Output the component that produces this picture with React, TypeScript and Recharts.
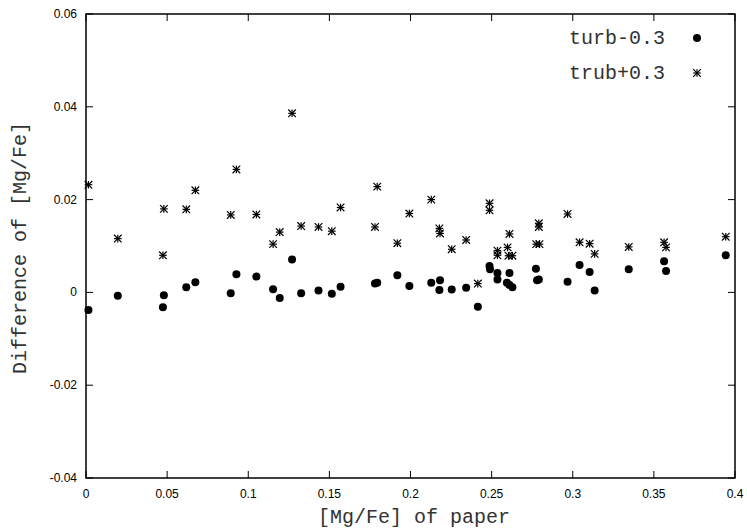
import { ScatterChart, Scatter, XAxis, YAxis, ReferenceArea } from "recharts";

// ticks
const xTicks = [0, 0.05, 0.1, 0.15, 0.2, 0.25, 0.3, 0.35, 0.4];
const yTicks = [-0.04, -0.02, 0, 0.02, 0.04, 0.06];

// turb-0.3 (filled circles)
const turbX = [
  0.0015, 0.0196, 0.0474, 0.048, 0.0618, 0.0674, 0.0892, 0.0927, 0.105, 0.1153,
  0.1194, 0.127, 0.1326, 0.1433, 0.1515, 0.1569, 0.1781, 0.1795, 0.1919, 0.1993,
  0.2128, 0.2178, 0.2182, 0.2254, 0.2343, 0.2415, 0.2487, 0.249, 0.2536, 0.2536,
  0.261, 0.2594, 0.261, 0.2628, 0.2773, 0.2791, 0.278, 0.2968, 0.3042, 0.3104,
  0.3135, 0.3345, 0.3563, 0.3575, 0.3943,
];
const turbY = [
  -0.0038, -0.0007, -0.0032, -0.0006, 0.0011, 0.0022, -0.0002, 0.0039, 0.0034, 0.0007,
  -0.0012, 0.0071, -0.0002, 0.0004, -0.0003, 0.0012, 0.0019, 0.0021, 0.0037, 0.0014,
  0.0021, 0.0005, 0.0026, 0.0006, 0.001, -0.0031, 0.0057, 0.005, 0.0042, 0.0028,
  0.0042, 0.0021, 0.0016, 0.0011, 0.0051, 0.0028, 0.0026, 0.0023, 0.0059, 0.0044,
  0.0004, 0.005, 0.0067, 0.0046, 0.008,
];

// trub+0.3 (asterisks)
const trubX = [
  0.0015, 0.0196, 0.0474, 0.048, 0.0618, 0.0674, 0.0892, 0.0927, 0.105, 0.1153,
  0.1194, 0.127, 0.1326, 0.1433, 0.1515, 0.1569, 0.1781, 0.1795, 0.1919, 0.1993,
  0.2128, 0.2178, 0.2182, 0.2254, 0.2343, 0.2415, 0.2487, 0.2487, 0.2536, 0.2536,
  0.261, 0.2598, 0.2604, 0.2628, 0.2791, 0.2791, 0.2775, 0.2795, 0.2968, 0.3042,
  0.3104, 0.3135, 0.3345, 0.3563, 0.3575, 0.3943,
];
const trubY = [
  0.0232, 0.0116, 0.008, 0.018, 0.0179, 0.022, 0.0167, 0.0265, 0.0168, 0.0104,
  0.013, 0.0386, 0.0143, 0.0141, 0.0132, 0.0183, 0.0141, 0.0228, 0.0106, 0.017,
  0.02, 0.0138, 0.0127, 0.0093, 0.0113, 0.0019, 0.0192, 0.0177, 0.009, 0.008,
  0.0126, 0.0097, 0.0079, 0.0079, 0.0149, 0.0141, 0.0104, 0.0104, 0.0169, 0.0108,
  0.0105, 0.0083, 0.0098, 0.0108, 0.0097, 0.012,
];

const turbData = turbX.map((x, i) => ({ x, y: turbY[i] }));
const trubData = trubX.map((x, i) => ({ x, y: trubY[i] }));

const W = 747;
const H = 532;
const PLOT = { left: 86, right: 735, top: 14, bottom: 478 };
const TICK = 7;
const tickFont = "'Liberation Sans Narrow', 'Liberation Sans', Arial, sans-serif";
const titleFont = "'Liberation Mono', 'DejaVu Sans Mono', monospace";
const titleColor = "#333";

const fmt = (v: number) => String(Number(v.toFixed(2)));

function XTick({ x, payload }: any) {
  return (
    <g>
      <line x1={x} x2={x} y1={PLOT.bottom} y2={PLOT.bottom - TICK} stroke="#000" />
      <line x1={x} x2={x} y1={PLOT.top} y2={PLOT.top + TICK} stroke="#000" />
      <text x={x} y={494} textAnchor="middle" dominantBaseline="central" fontFamily={tickFont} fontSize={12} fill="#000">
        {fmt(payload.value)}
      </text>
    </g>
  );
}

function YTick({ y, payload }: any) {
  return (
    <g>
      <line x1={PLOT.left} x2={PLOT.left + TICK} y1={y} y2={y} stroke="#000" />
      <line x1={PLOT.right} x2={PLOT.right - TICK} y1={y} y2={y} stroke="#000" />
      <text x={77} y={y} textAnchor="end" dominantBaseline="central" fontFamily={tickFont} fontSize={12} fill="#000">
        {fmt(payload.value)}
      </text>
    </g>
  );
}

const Dot = ({ cx, cy }: any) => <circle cx={cx} cy={cy} r={4} fill="#000" />;

const Star = ({ cx, cy }: any) => {
  const r = 3.8;
  return (
    <g stroke="#000" strokeWidth={1.2}>
      <line x1={cx - r} x2={cx + r} y1={cy} y2={cy} />
      <line x1={cx} x2={cx} y1={cy - r} y2={cy + r} />
      <line x1={cx - r} x2={cx + r} y1={cy - r} y2={cy + r} />
      <line x1={cx - r} x2={cx + r} y1={cy + r} y2={cy - r} />
    </g>
  );
};

export default function App() {
  return (
    <div style={{ position: "absolute", left: 0, top: 0, width: W, height: H, background: "#fff" }}>
      <ScatterChart width={W} height={H} margin={{ top: 14, right: 12, bottom: 0, left: 0 }}>
        <XAxis
          type="number"
          dataKey="x"
          domain={[0, 0.4]}
          ticks={xTicks}
          interval={0}
          height={54}
          axisLine={false}
          tickLine={false}
          tickSize={0}
          tick={<XTick />}
          label={{
            content: () => (
              <text x={414} y={517} textAnchor="middle" dominantBaseline="central" fontFamily={titleFont} fontSize={20} fill={titleColor}>
                [Mg/Fe] of paper
              </text>
            ),
          }}
        />
        <YAxis
          type="number"
          dataKey="y"
          domain={[-0.04, 0.06]}
          ticks={yTicks}
          interval={0}
          width={86}
          axisLine={false}
          tickLine={false}
          tickSize={0}
          tick={<YTick />}
          label={{
            content: () => (
              <text
                x={20}
                y={248}
                transform="rotate(-90 20 248)"
                textAnchor="middle"
                dominantBaseline="central"
                fontFamily={titleFont}
                fontSize={20}
                fill={titleColor}
              >
                Difference of [Mg/Fe]
              </text>
            ),
          }}
        />
        <ReferenceArea x1={0} x2={0.4} y1={-0.04} y2={0.06} fill="none" stroke="#000" strokeWidth={1.5} ifOverflow="visible" />
        <Scatter name="turb-0.3" data={turbData} shape={<Dot />} isAnimationActive={false} />
        <Scatter name="trub+0.3" data={trubData} shape={<Star />} isAnimationActive={false} />
      </ScatterChart>
      <svg width={W} height={H} style={{ position: "absolute", left: 0, top: 0, pointerEvents: "none" }}>
        <text x={665} y={38} textAnchor="end" dominantBaseline="central" fontFamily={titleFont} fontSize={20} fill={titleColor}>
          turb-0.3
        </text>
        <Dot cx={697} cy={38} />
        <text x={665} y={73} textAnchor="end" dominantBaseline="central" fontFamily={titleFont} fontSize={20} fill={titleColor}>
          trub+0.3
        </text>
        <Star cx={697} cy={73} />
      </svg>
    </div>
  );
}
